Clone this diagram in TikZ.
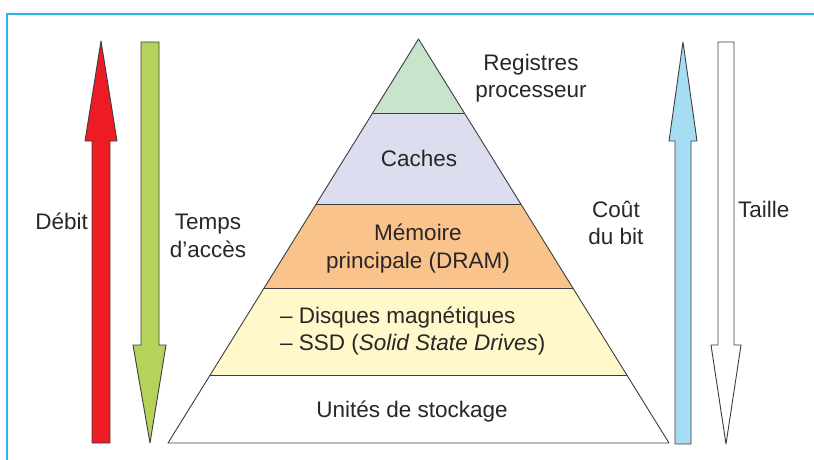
\documentclass[tikz,border=0pt]{standalone}
\usepackage{fontspec}
\setmainfont{Liberation Sans}
\usetikzlibrary{calc}

\definecolor{frame}{HTML}{29B5E8}
\definecolor{redarrow}{HTML}{ED1C24}
\definecolor{greenarrow}{HTML}{B5D35A}
\definecolor{bluearrow}{HTML}{A6DDF5}
\definecolor{regcol}{HTML}{C8E4CA}
\definecolor{cachecol}{HTML}{DCDDEE}
\definecolor{dramcol}{HTML}{F9C38B}
\definecolor{diskcol}{HTML}{FFF8CB}
\definecolor{edge}{HTML}{3C3C3C}
\definecolor{txt}{HTML}{2A2627}

\begin{document}
\begin{tikzpicture}[x=1pt,y=-1pt,
  lbl/.style={font=\fontsize{22.5}{27}\selectfont, text=txt, inner sep=0pt, anchor=base},
  bigarrow/.style={draw=edge, line width=0.9pt, line join=round},
  layeredge/.style={draw=edge, line width=0.9pt}]
\useasboundingbox (0,0) rectangle (814,460);

% outer frame (only the top and left sides are visible)
\draw[frame, line width=2pt] (7,461) -- (7,14) -- (815,14);

% pyramid corners and layer boundaries
\coordinate (apex) at (418.5,39);
\coordinate (bl) at (168,443);
\coordinate (br) at (669,443);
\foreach \n/\t in {a/0.1832,b/0.4084,c/0.6163,d/0.8317}{
  \coordinate (l\n) at ($(apex)!\t!(bl)$);
  \coordinate (r\n) at ($(apex)!\t!(br)$);
}

% layer fills
\fill[regcol]   (apex) -- (la) -- (ra) -- cycle;
\fill[cachecol] (la) -- (lb) -- (rb) -- (ra) -- cycle;
\fill[dramcol]  (lb) -- (lc) -- (rc) -- (rb) -- cycle;
\fill[diskcol]  (lc) -- (ld) -- (rd) -- (rc) -- cycle;
\fill[white]    (ld) -- (bl) -- (br) -- (rd) -- cycle;

% layer outlines
\draw[layeredge, line join=round] (apex) -- (bl) -- (br) -- cycle;
\foreach \n in {a,b,c,d} \draw[layeredge] (l\n) -- (r\n);

% vertical arrows
\filldraw[bigarrow, fill=redarrow]
  (101,41) -- (117,141) -- (110,141) -- (110,443) -- (92,443) -- (92,141) -- (85,141) -- cycle;
\filldraw[bigarrow, fill=greenarrow]
  (141,42) -- (159,42) -- (159,345) -- (166,345) -- (150,443) -- (133,345) -- (141,345) -- cycle;
\filldraw[bigarrow, fill=bluearrow]
  (683,42) -- (697,141) -- (691,141) -- (691,444) -- (675,444) -- (675,141) -- (669,141) -- cycle;
\filldraw[bigarrow, fill=white]
  (718,42) -- (734,42) -- (734,345) -- (741,345) -- (726,444) -- (711,345) -- (718,345) -- cycle;

% pyramid labels
\node[lbl] (reg1)  at (531,70.5) {Registres};
\node[lbl] (reg2)  at (531,98)   {processeur};
\node[lbl] (cache) at (419,166)  {Caches};
\node[lbl] (dram1) at (418,240)  {Mémoire};
\node[lbl] (dram2) at (418,268)  {principale (DRAM)};
\node[lbl, anchor=base west] (disk1) at (280,323) {– Disques magnétiques};
\node[lbl, anchor=base west] (disk2) at (280,350) {– SSD (\textit{Solid State Drives})};
\node[lbl] (store) at (412,417)  {Unités de stockage};

% arrow labels
\node[lbl, anchor=base east] (debit) at (88,229) {Débit};
\node[lbl] (temps1) at (208,229) {Temps};
\node[lbl] (temps2) at (208,257) {d’accès};
\node[lbl] (cout1)  at (616,217) {Coût};
\node[lbl] (cout2)  at (616,244) {du bit};
\node[lbl, anchor=base west] (taille) at (738,217) {Taille};
\end{tikzpicture}
\end{document}
